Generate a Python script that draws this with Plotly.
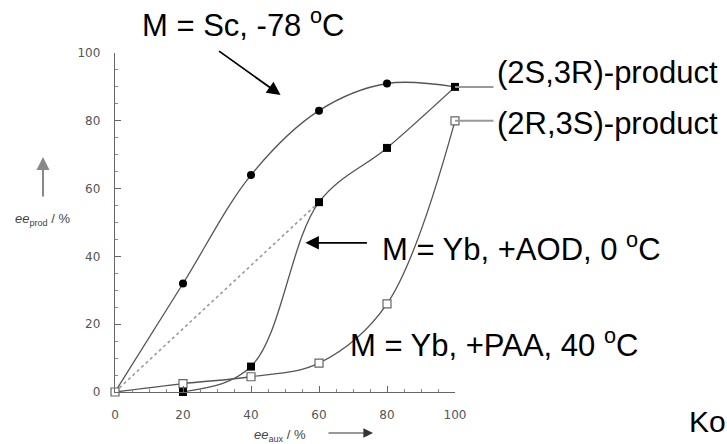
import plotly.graph_objects as go

# ee of the chiral auxiliary (x) and ee of the product (y), in %
ee_aux = [0, 20, 40, 60, 80, 100]
ee_sc = [0, 32, 64, 83, 91, 90]          # M = Sc, -78 °C
ee_aod = [0, 0, 7.5, 56, 72, 90]         # M = Yb, +AOD, 0 °C
ee_paa = [0, 2.5, 4.5, 8.5, 26, 80]      # M = Yb, +PAA, 40 °C
linear_x = [0, 60]                       # linear (non-amplified) reference
linear_y = [0, 56]
tick_vals = [0, 20, 40, 60, 80, 100]

W, H = 727, 444
L, R, T, B = 115, 272, 53, 52
PW, PH = W - L - R, H - T - B


def px_x(p):
    return (p - L) / PW


def px_y(p):
    return (H - B - p) / PH


LINE = "#555555"
TEXT_FONT = "Liberation Sans, Arial, sans-serif"

fig = go.Figure()

fig.add_trace(go.Scatter(x=linear_x, y=linear_y, mode="lines",
                         line=dict(color="#999999", width=1.6, dash="dot"),
                         hoverinfo="skip"))

for ys in (ee_sc, ee_aod, ee_paa):
    fig.add_trace(go.Scatter(x=ee_aux, y=ys, mode="lines",
                             line=dict(color=LINE, width=1.3, shape="spline", smoothing=1),
                             hoverinfo="skip"))

fig.add_trace(go.Scatter(x=ee_aux[1:5], y=ee_sc[1:5], mode="markers", cliponaxis=False,
                         marker=dict(symbol="circle", size=8, color="black")))
fig.add_trace(go.Scatter(x=ee_aux[1:], y=ee_aod[1:], mode="markers", cliponaxis=False,
                         marker=dict(symbol="square", size=8, color="black")))
fig.add_trace(go.Scatter(x=ee_aux, y=ee_paa, mode="markers", cliponaxis=False,
                         marker=dict(symbol="square", size=8, color="white",
                                     line=dict(color="#666666", width=1.2))))

axis_common = dict(
    range=[0, 100], tickvals=tick_vals, ticks="inside", ticklen=6, tickwidth=1.2,
    tickcolor="#666666", showline=True, linecolor="#666666", linewidth=1.4,
    showgrid=False, zeroline=False, ticklabelstandoff=11,
    tickfont=dict(family="DejaVu Sans", size=12, color="#555555"),
    minor=dict(dtick=5, ticks="inside", ticklen=3, tickcolor="#888888", tickwidth=1),
)

annotations = []


def text_ann(txt, x, y, size=31, color="black", **kw):
    annotations.append(dict(text=txt, x=x, y=y, xref="paper", yref="paper",
                            xanchor="left", yanchor="middle", showarrow=False,
                            font=dict(family=TEXT_FONT, size=size, color=color), **kw))


def arrow_ann(x, y, ax, ay, xref="x", yref="y", color="black", width=1.8, head=2, size=1.5):
    annotations.append(dict(text="", x=x, y=y, xref=xref, yref=yref, ax=ax, ay=ay,
                            showarrow=True, arrowhead=head, arrowsize=size,
                            arrowwidth=width, arrowcolor=color))


# condition labels
text_ann("M = Sc, -78 <sup>o</sup>C", px_x(140), px_y(23))
text_ann("M = Yb, +AOD, 0 <sup>o</sup>C", px_x(380), px_y(247))
text_ann("M = Yb, +PAA, 40 <sup>o</sup>C", px_x(348), px_y(343))
text_ann("Ko", px_x(687), px_y(422), size=30)

# pointer arrows
arrow_ann(48.7, 87.6, -63, -45)
arrow_ann(56.0, 44.0, 63, 0)

# product labels with leader lines from the end points
for yv, label, shift in ((ee_aod[-1], "(2S,3R)-product", 14),
                         (ee_paa[-1], "(2R,3S)-product", -3)):
    arrow_ann(ee_aux[-1], yv, 40, 0, color="#999999", width=2, head=0)
    annotations.append(dict(text=label, x=ee_aux[-1], y=yv, xref="x", yref="y",
                            xanchor="left", yanchor="middle", xshift=40, yshift=shift,
                            showarrow=False,
                            font=dict(family=TEXT_FONT, size=31, color="black")))

# axis titles with direction arrows
text_ann("<i>ee</i><sub>prod</sub> / %", px_x(13), px_y(219), size=13, color="#444444")
arrow_ann(px_x(43), px_y(157), 0, 41, xref="paper", yref="paper", color="#888888",
          width=2, head=2, size=1.3)
text_ann("<i>ee</i><sub>aux</sub> / %", px_x(252), px_y(435), size=13, color="#444444")
arrow_ann(px_x(373), px_y(433), -46, 0, xref="paper", yref="paper", color="#333333",
          width=1.2, head=2, size=1.6)

fig.update_layout(
    width=W, height=H, margin=dict(l=L, r=R, t=T, b=B),
    paper_bgcolor="white", plot_bgcolor="white", showlegend=False,
    xaxis=axis_common, yaxis=axis_common, annotations=annotations,
)

fig.write_html("out.html")
